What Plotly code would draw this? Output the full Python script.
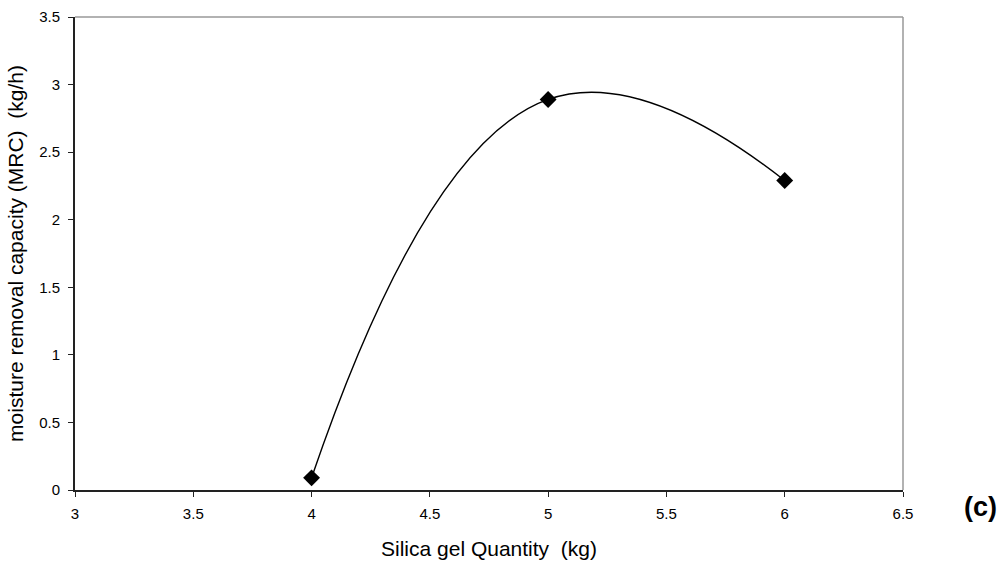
import plotly.graph_objects as go

silica_kg = [4, 5, 6]
mrc_kgh = [0.09, 2.89, 2.29]

x_ticks = [3, 3.5, 4, 4.5, 5, 5.5, 6, 6.5]
y_ticks = [0, 0.5, 1, 1.5, 2, 2.5, 3, 3.5]

FONT = "Liberation Sans, Arial, sans-serif"

fig = go.Figure()
fig.add_trace(go.Scatter(
    x=silica_kg, y=mrc_kgh, mode="lines+markers",
    line=dict(color="black", width=1.4, shape="spline", smoothing=1.3),
    marker=dict(symbol="diamond", size=13, color="black"),
    showlegend=False, cliponaxis=False,
))

fig.update_layout(
    width=1008, height=565,
    margin=dict(l=75, r=105, t=17, b=75),
    paper_bgcolor="white", plot_bgcolor="white",
    font=dict(family=FONT, color="black"),
    xaxis=dict(
        range=[3, 6.5], tickvals=x_ticks, ticktext=[f"{v:g}" for v in x_ticks],
        showgrid=False, zeroline=False, automargin=False,
        showline=True, linecolor="#222", linewidth=2,
        ticks="outside", ticklen=5, tickcolor="#222", tickwidth=1,
        tickfont=dict(size=15), ticklabelstandoff=4,
        title=dict(text="Silica gel Quantity  (kg)", font=dict(size=21), standoff=20),
    ),
    yaxis=dict(
        range=[0, 3.5], tickvals=y_ticks, ticktext=[f"{v:g}" for v in y_ticks],
        showgrid=False, zeroline=False, automargin=False,
        showline=True, linecolor="#222", linewidth=2,
        ticks="outside", ticklen=5, tickcolor="#222", tickwidth=1,
        tickfont=dict(size=15), ticklabelstandoff=5,
        title=dict(text="moisture removal capacity (MRC)  (kg/h)", font=dict(size=21), standoff=10),
    ),
    shapes=[
        dict(type="line", xref="paper", yref="paper", x0=0, x1=1, y0=1, y1=1,
             line=dict(color="#999", width=1.5)),
        dict(type="line", xref="paper", yref="paper", x0=1, x1=1, y0=0, y1=1,
             line=dict(color="#999", width=1.5)),
    ],
    annotations=[
        dict(text="<b>(c)</b>", xref="paper", yref="paper", x=(980 - 75) / 828,
             y=-(507 - 490) / 473, xanchor="center", yanchor="middle",
             showarrow=False, font=dict(size=27, family=FONT)),
    ],
)

fig.write_html("out.html")
